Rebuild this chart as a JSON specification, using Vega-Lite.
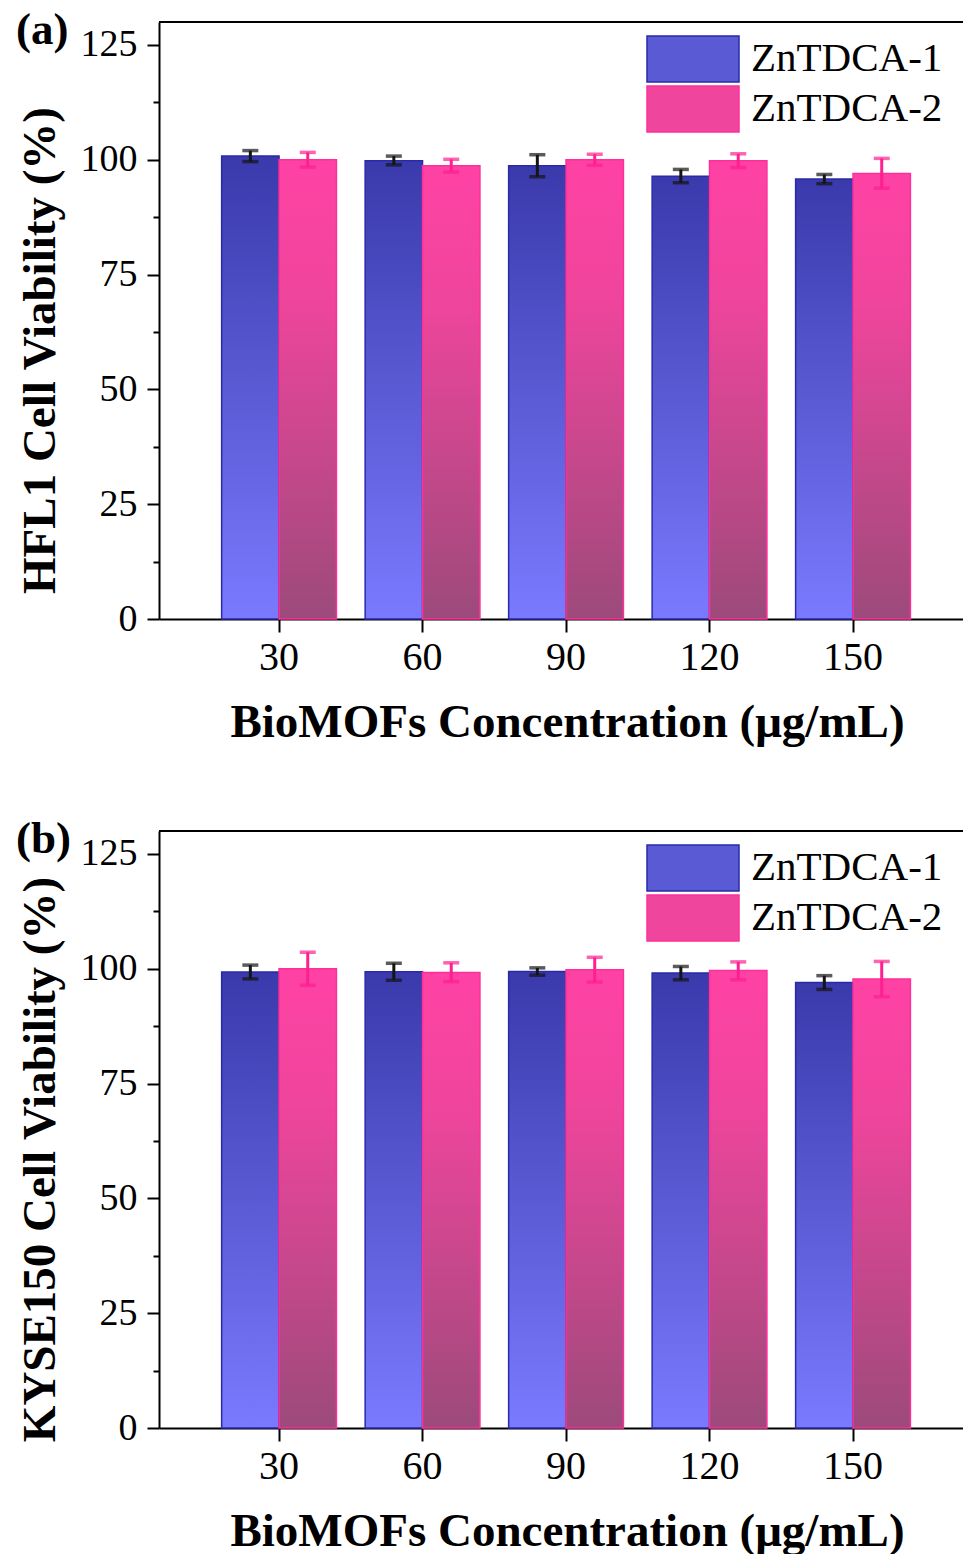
{
  "$schema": "https://vega.github.io/schema/vega-lite/v6.json",
  "background": "white",
  "padding": {"left": 16, "top": 8, "right": 0, "bottom": 0},
  "spacing": 72,
  "config": {
    "font": "Liberation Serif",
    "view": {"stroke": null},
    "axis": {"grid": false, "domainColor": "black", "domainWidth": 2, "tickColor": "black", "tickWidth": 2, "labelColor": "black", "titleColor": "black", "labelFont": "Liberation Serif", "titleFont": "Liberation Serif", "titleFontWeight": "bold", "titleFontSize": 47},
    "legend": {"labelFont": "Liberation Serif"},
    "title": {"font": "Liberation Serif", "color": "black"}
  },
  "datasets": {
    "hfl1": [
      {"conc": 30, "series": "ZnTDCA-1", "mean": 100.8, "lo": 99.6, "hi": 102.0},
      {"conc": 30, "series": "ZnTDCA-2", "mean": 100.0, "lo": 98.4, "hi": 101.6},
      {"conc": 60, "series": "ZnTDCA-1", "mean": 99.8, "lo": 98.9, "hi": 100.8},
      {"conc": 60, "series": "ZnTDCA-2", "mean": 98.7, "lo": 97.3, "hi": 100.1},
      {"conc": 90, "series": "ZnTDCA-1", "mean": 98.7, "lo": 96.3, "hi": 101.1},
      {"conc": 90, "series": "ZnTDCA-2", "mean": 100.0, "lo": 98.8, "hi": 101.2},
      {"conc": 120, "series": "ZnTDCA-1", "mean": 96.4, "lo": 95.0, "hi": 97.9},
      {"conc": 120, "series": "ZnTDCA-2", "mean": 99.8, "lo": 98.3, "hi": 101.3},
      {"conc": 150, "series": "ZnTDCA-1", "mean": 95.8, "lo": 94.8, "hi": 96.8},
      {"conc": 150, "series": "ZnTDCA-2", "mean": 97.0, "lo": 93.8, "hi": 100.3}
    ],
    "kyse150": [
      {"conc": 30, "series": "ZnTDCA-1", "mean": 99.3, "lo": 97.8, "hi": 100.8},
      {"conc": 30, "series": "ZnTDCA-2", "mean": 100.0, "lo": 96.4, "hi": 103.6},
      {"conc": 60, "series": "ZnTDCA-1", "mean": 99.35, "lo": 97.5, "hi": 101.2},
      {"conc": 60, "series": "ZnTDCA-2", "mean": 99.2, "lo": 97.2, "hi": 101.3},
      {"conc": 90, "series": "ZnTDCA-1", "mean": 99.4, "lo": 98.6, "hi": 100.2},
      {"conc": 90, "series": "ZnTDCA-2", "mean": 99.8, "lo": 97.1, "hi": 102.5},
      {"conc": 120, "series": "ZnTDCA-1", "mean": 99.1, "lo": 97.6, "hi": 100.5},
      {"conc": 120, "series": "ZnTDCA-2", "mean": 99.6, "lo": 97.6, "hi": 101.5},
      {"conc": 150, "series": "ZnTDCA-1", "mean": 97.0, "lo": 95.5, "hi": 98.5},
      {"conc": 150, "series": "ZnTDCA-2", "mean": 97.75, "lo": 93.9, "hi": 101.6}
    ]
  },
  "vconcat": [
    {
      "width": 805,
      "height": 597,
      "title": {"text": "(a)", "anchor": "start", "frame": "bounds", "fontSize": 45, "fontWeight": "bold", "baseline": "alphabetic", "offset": -68},
      "data": {"name": "hfl1"},
      "encoding": {
        "x": {"field": "conc", "type": "ordinal", "scale": {"paddingInner": 0.2, "paddingOuter": 0.405, "align": 0.539},
              "axis": {"title": "BioMOFs Concentration (μg/mL)", "labelAngle": 0, "labelFontSize": 40, "tickSize": 13, "labelPadding": 5, "titlePadding": 22, "titleX": 408}},
        "xOffset": {"field": "series", "type": "nominal", "scale": {"paddingInner": 0, "paddingOuter": 0}}
      },
      "layer": [
        {
          "mark": {"type": "bar", "strokeWidth": 1.5},
          "encoding": {
            "y": {"field": "mean", "type": "quantitative", "scale": {"domain": [0, 130], "nice": false},
                  "axis": {"title": "HFL1 Cell Viability (%)", "values": [0, 12.5, 25, 37.5, 50, 62.5, 75, 87.5, 100, 112.5, 125],
                           "labelExpr": "datum.value % 25 === 0 ? datum.label : ''", "labelFontSize": 38, "labelPadding": 10,
                           "tickSize": {"condition": {"test": "datum.value % 25 !== 0", "value": 6}, "value": 12}, "titlePadding": 16, "titleY": 328}},
            "color": {"field": "series", "type": "nominal",
                      "condition": [
                        {"test": "datum.series === 'ZnTDCA-1'", "value": {"gradient": "linear", "x1": 0, "y1": 0, "x2": 0, "y2": 1, "stops": [{"offset": 0, "color": "#3a3aac"}, {"offset": 0.5, "color": "#5a5ad4"}, {"offset": 1, "color": "#7a7aff"}]}},
                        {"test": "datum.series === 'ZnTDCA-2'", "value": {"gradient": "linear", "x1": 0, "y1": 0, "x2": 0, "y2": 1, "stops": [{"offset": 0, "color": "#ff42a4"}, {"offset": 0.3, "color": "#ef459c"}, {"offset": 1, "color": "#9c4a7b"}]}}
                      ],
                      "scale": {"domain": ["ZnTDCA-1", "ZnTDCA-2"], "range": ["#5a5ad4", "#ef459c"]},
                      "legend": {"title": null, "orient": "none", "legendX": 510, "legendY": 13, "padding": 0, "labelFontSize": 41, "labelOffset": 34, "rowPadding": -2, "labelLimit": 400,
                                 "symbolType": "M-2,-1H2V1H-2Z", "symbolSize": 2116, "symbolStrokeWidth": 1.5,
                                 "encoding": {"symbols": {
                                   "fill": {"value": {"expr": "datum.value === 'ZnTDCA-1' ? {gradient: 'linear', x1: 0, y1: 0, x2: 0, y2: 1, stops: [{offset: 0, color: '#4444bc'}, {offset: 1, color: '#7676ff'}]} : {gradient: 'linear', x1: 0, y1: 0, x2: 0, y2: 1, stops: [{offset: 0, color: '#ff42a4'}, {offset: 1, color: '#a24a7e'}]}"}},
                                   "stroke": {"condition": {"test": "datum.value === 'ZnTDCA-1'", "value": "#2a2aa8"}, "value": "#ff2e9a"},
                                   "strokeWidth": {"value": 1.5}}}}},
            "stroke": {"condition": {"test": "datum.series === 'ZnTDCA-1'", "value": "#2a2aa8"}, "value": "#ff2e9a"}
          }
        },
        {
          "mark": {"type": "rule", "strokeWidth": 3},
          "encoding": {
            "y": {"field": "lo", "type": "quantitative"},
            "y2": {"field": "hi"},
            "color": {"condition": {"test": "datum.series === 'ZnTDCA-1'", "value": "#151515"}, "value": "#ff1f90"}
          }
        },
        {
          "mark": {"type": "tick", "thickness": 3.5, "size": 16},
          "encoding": {
            "y": {"field": "lo", "type": "quantitative"},
            "color": {"condition": {"test": "datum.series === 'ZnTDCA-1'", "value": "#151515"}, "value": "#ff1f90"}
          }
        },
        {
          "mark": {"type": "tick", "thickness": 3.5, "size": 16},
          "encoding": {
            "y": {"field": "hi", "type": "quantitative"},
            "color": {"condition": {"test": "datum.series === 'ZnTDCA-1'", "value": "#151515"}, "value": "#ff1f90"}
          }
        },
        {
          "mark": {"type": "rule", "strokeWidth": 2, "color": "black"},
          "encoding": {"y": {"datum": 130}, "x": null, "xOffset": null}
        }
      ]
    },
    {
      "width": 805,
      "height": 597,
      "title": {"text": "(b)", "anchor": "start", "frame": "bounds", "fontSize": 45, "fontWeight": "bold", "baseline": "alphabetic", "offset": -68},
      "data": {"name": "kyse150"},
      "encoding": {
        "x": {"field": "conc", "type": "ordinal", "scale": {"paddingInner": 0.2, "paddingOuter": 0.405, "align": 0.539},
              "axis": {"title": "BioMOFs Concentration (μg/mL)", "labelAngle": 0, "labelFontSize": 40, "tickSize": 13, "labelPadding": 5, "titlePadding": 22, "titleX": 408}},
        "xOffset": {"field": "series", "type": "nominal", "scale": {"paddingInner": 0, "paddingOuter": 0}}
      },
      "layer": [
        {
          "mark": {"type": "bar", "strokeWidth": 1.5},
          "encoding": {
            "y": {"field": "mean", "type": "quantitative", "scale": {"domain": [0, 130], "nice": false},
                  "axis": {"title": "KYSE150 Cell Viability (%)", "values": [0, 12.5, 25, 37.5, 50, 62.5, 75, 87.5, 100, 112.5, 125],
                           "labelExpr": "datum.value % 25 === 0 ? datum.label : ''", "labelFontSize": 38, "labelPadding": 10,
                           "tickSize": {"condition": {"test": "datum.value % 25 !== 0", "value": 6}, "value": 12}, "titlePadding": 16, "titleY": 328}},
            "color": {"field": "series", "type": "nominal",
                      "condition": [
                        {"test": "datum.series === 'ZnTDCA-1'", "value": {"gradient": "linear", "x1": 0, "y1": 0, "x2": 0, "y2": 1, "stops": [{"offset": 0, "color": "#3a3aac"}, {"offset": 0.5, "color": "#5a5ad4"}, {"offset": 1, "color": "#7a7aff"}]}},
                        {"test": "datum.series === 'ZnTDCA-2'", "value": {"gradient": "linear", "x1": 0, "y1": 0, "x2": 0, "y2": 1, "stops": [{"offset": 0, "color": "#ff42a4"}, {"offset": 0.3, "color": "#ef459c"}, {"offset": 1, "color": "#9c4a7b"}]}}
                      ],
                      "scale": {"domain": ["ZnTDCA-1", "ZnTDCA-2"], "range": ["#5a5ad4", "#ef459c"]},
                      "legend": {"title": null, "orient": "none", "legendX": 510, "legendY": 13, "padding": 0, "labelFontSize": 41, "labelOffset": 34, "rowPadding": -2, "labelLimit": 400,
                                 "symbolType": "M-2,-1H2V1H-2Z", "symbolSize": 2116, "symbolStrokeWidth": 1.5,
                                 "encoding": {"symbols": {
                                   "fill": {"value": {"expr": "datum.value === 'ZnTDCA-1' ? {gradient: 'linear', x1: 0, y1: 0, x2: 0, y2: 1, stops: [{offset: 0, color: '#4444bc'}, {offset: 1, color: '#7676ff'}]} : {gradient: 'linear', x1: 0, y1: 0, x2: 0, y2: 1, stops: [{offset: 0, color: '#ff42a4'}, {offset: 1, color: '#a24a7e'}]}"}},
                                   "stroke": {"condition": {"test": "datum.value === 'ZnTDCA-1'", "value": "#2a2aa8"}, "value": "#ff2e9a"},
                                   "strokeWidth": {"value": 1.5}}}}},
            "stroke": {"condition": {"test": "datum.series === 'ZnTDCA-1'", "value": "#2a2aa8"}, "value": "#ff2e9a"}
          }
        },
        {
          "mark": {"type": "rule", "strokeWidth": 3},
          "encoding": {
            "y": {"field": "lo", "type": "quantitative"},
            "y2": {"field": "hi"},
            "color": {"condition": {"test": "datum.series === 'ZnTDCA-1'", "value": "#151515"}, "value": "#ff1f90"}
          }
        },
        {
          "mark": {"type": "tick", "thickness": 3.5, "size": 16},
          "encoding": {
            "y": {"field": "lo", "type": "quantitative"},
            "color": {"condition": {"test": "datum.series === 'ZnTDCA-1'", "value": "#151515"}, "value": "#ff1f90"}
          }
        },
        {
          "mark": {"type": "tick", "thickness": 3.5, "size": 16},
          "encoding": {
            "y": {"field": "hi", "type": "quantitative"},
            "color": {"condition": {"test": "datum.series === 'ZnTDCA-1'", "value": "#151515"}, "value": "#ff1f90"}
          }
        },
        {
          "mark": {"type": "rule", "strokeWidth": 2, "color": "black"},
          "encoding": {"y": {"datum": 130}, "x": null, "xOffset": null}
        }
      ]
    }
  ],
  "resolve": {"scale": {"x": "independent", "y": "independent", "color": "independent", "xOffset": "independent"}}
}
